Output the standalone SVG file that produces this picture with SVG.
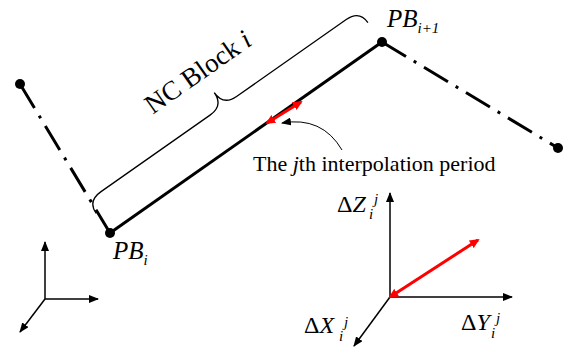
<svg xmlns="http://www.w3.org/2000/svg" width="569" height="352" viewBox="0 0 569 352">
<style>
text{font-family:"Liberation Serif","Times New Roman",serif;fill:#000}
.it{font-style:italic}
.path{stroke:#000;stroke-width:3;fill:none}
.dd{stroke:#000;stroke-width:3;fill:none;stroke-dasharray:28 9 3 9}
.ax{stroke:#000;stroke-width:1.5;fill:none}
.red{stroke:#f00;stroke-width:3;fill:none}
</style>
<defs>
<marker id="ah" markerWidth="10" markerHeight="8" refX="9" refY="4" orient="auto" markerUnits="userSpaceOnUse"><path d="M0,0 L10,4 L0,8 Z" fill="#000"/></marker>
<marker id="rh" markerWidth="10" markerHeight="9" refX="8" refY="4.5" orient="auto-start-reverse" markerUnits="userSpaceOnUse"><path d="M0,0 L10,4.5 L0,9 Z" fill="#f00"/></marker>
</defs>
<g id="connectors">
<line class="dd" x1="20" y1="84" x2="110" y2="233"/>
<line class="path" x1="110" y1="233" x2="382" y2="42"/>
<line class="dd" x1="382" y1="42" x2="558" y2="148"/>
<line class="red" x1="267" y1="123" x2="301" y2="102" marker-start="url(#rh)" marker-end="url(#rh)"/>
<path d="M342,150 Q322,116 282,123" stroke="#000" stroke-width="1" fill="none" marker-end="url(#ah)"/>
</g>
<g id="brace">
<path transform="translate(110,233) rotate(-35.07)" d="M0,-24 Q0,-39 16,-39 L150,-39 Q166,-39 166,-55 Q166,-39 182,-39 L316,-39 Q332,-39 332,-24" stroke="#000" stroke-width="1.3" fill="none"/>
<text transform="translate(198,72) rotate(-35.07)" x="0" y="9" font-size="27" text-anchor="middle">NC Block <tspan class="it">i</tspan></text>
</g>
<g id="pb_left_end"><circle cx="20" cy="84" r="5" fill="#000"/></g>
<g id="pb_i"><circle cx="110" cy="233" r="5" fill="#000"/>
<text x="113" y="259" font-size="25" class="it">PB<tspan font-size="15" dy="6">i</tspan></text></g>
<g id="pb_i1"><circle cx="382" cy="42" r="5" fill="#000"/>
<text x="387" y="27" font-size="25" class="it">PB<tspan font-size="15" dy="6">i+1</tspan></text></g>
<g id="pb_right_end"><circle cx="558" cy="148" r="5" fill="#000"/></g>
<g id="label_period"><text x="253" y="171" font-size="22">The <tspan class="it">j</tspan>th interpolation period</text></g>
<g id="axes_left">
<line class="ax" x1="45" y1="299" x2="45" y2="242" marker-end="url(#ah)"/>
<line class="ax" x1="45" y1="299" x2="98" y2="299" marker-end="url(#ah)"/>
<line class="ax" x1="45" y1="299" x2="20" y2="332" marker-end="url(#ah)"/>
</g>
<g id="axes_right">
<line class="ax" x1="390" y1="297" x2="390" y2="193" marker-end="url(#ah)"/>
<line class="ax" x1="390" y1="297" x2="512" y2="297" marker-end="url(#ah)"/>
<line class="ax" x1="390" y1="297" x2="354" y2="346" marker-end="url(#ah)"/>
<line class="red" x1="390" y1="297" x2="478" y2="240" marker-start="url(#rh)" marker-end="url(#rh)"/>
<text x="337" y="212" font-size="24">Δ<tspan class="it">Z</tspan></text>
<text x="374" y="204" font-size="15" class="it">j</text>
<text x="369" y="219" font-size="15" class="it">i</text>
<text x="304" y="333" font-size="24">Δ<tspan class="it">X</tspan></text>
<text x="344" y="327" font-size="15" class="it">j</text>
<text x="339" y="341" font-size="15" class="it">i</text>
<text x="461" y="330" font-size="24">Δ<tspan class="it">Y</tspan></text>
<text x="496" y="323" font-size="15" class="it">j</text>
<text x="491" y="338" font-size="15" class="it">i</text>
</g>
</svg>
